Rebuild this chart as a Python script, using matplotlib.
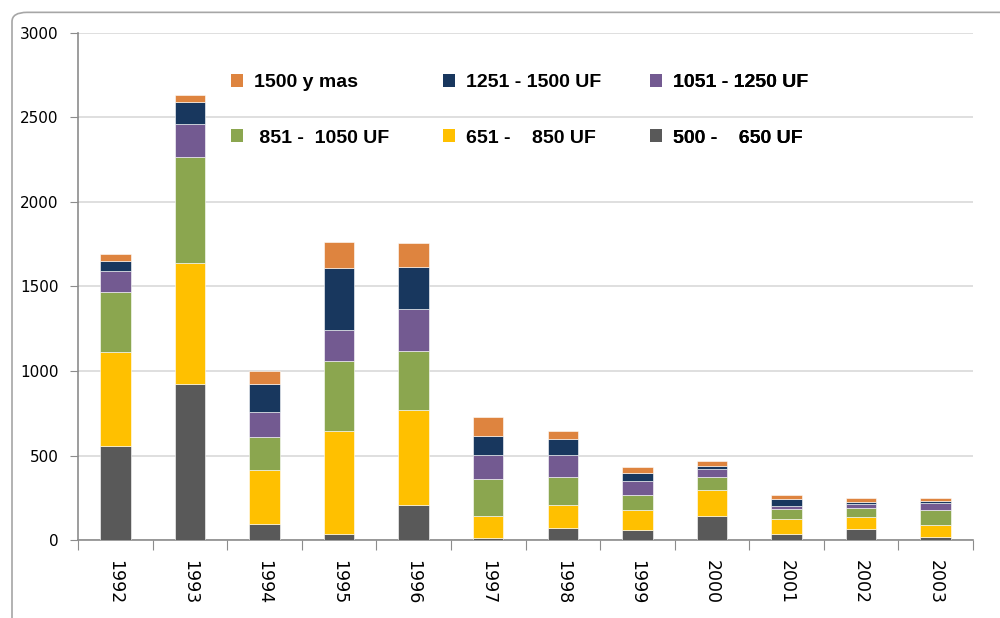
import numpy as np
import matplotlib.pyplot as plt
from matplotlib.patches import FancyBboxPatch, Patch

# ---------------------------------------------------------------------------
# Data
# ---------------------------------------------------------------------------
years = ['1992', '1993', '1994', '1995', '1996', '1997', '1998', '1999',
         '2000', '2001', '2002', '2003']

uf_500_650 = [559, 925, 96, 39, 210, 13, 74, 57, 143, 39, 63, 19]
uf_651_850 = [551, 711, 317, 609, 558, 130, 132, 121, 156, 83, 74, 73]
uf_851_1050 = [355, 631, 199, 411, 348, 217, 166, 91, 73, 61, 53, 85]
uf_1051_1250 = [126, 195, 144, 186, 249, 146, 134, 81, 47, 21, 22, 41]
uf_1251_1500 = [57, 128, 169, 364, 250, 110, 94, 44, 20, 39, 16, 16]
uf_1500_mas = [42, 44, 77, 156, 144, 112, 48, 37, 31, 22, 24, 18]

series = [
    ('500 -    650 UF', uf_500_650, '#595959'),
    ('651 -    850 UF', uf_651_850, '#FFC000'),
    (' 851 -  1050 UF', uf_851_1050, '#8BA64F'),
    ('1051 - 1250 UF', uf_1051_1250, '#735A91'),
    ('1251 - 1500 UF', uf_1251_1500, '#18375E'),
    ('1500 y mas', uf_1500_mas, '#DE843F'),
]

# ---------------------------------------------------------------------------
# Plot
# ---------------------------------------------------------------------------
fig = plt.figure(figsize=(10, 6.18), dpi=100)
ax = fig.add_axes([0.078, 0.126, 0.895, 0.821])

x = np.arange(len(years))
bottom = np.zeros(len(years))
handles = {}
for label, vals, color in series:
    ax.bar(x, vals, 0.41, bottom=bottom, color=color,
           edgecolor='#FFFFFF', linewidth=0.4, zorder=3)
    bottom += np.array(vals)
    handles[label] = Patch(facecolor=color, label=label)

ax.set_xlim(-0.5, len(years) - 0.5)
ax.set_ylim(0, 3000)
ax.set_yticks(np.arange(0, 3001, 500))
ax.yaxis.grid(True, color='#D9D9D9', linewidth=1.2, zorder=0)
ax.set_axisbelow(True)

for side in ['top', 'right']:
    ax.spines[side].set_visible(False)
for side in ['left', 'bottom']:
    ax.spines[side].set_color('#8C8C8C')
    ax.spines[side].set_linewidth(1.2)

ax.tick_params(axis='y', direction='out', length=6, color='#8C8C8C',
               labelsize=11, pad=8)

# category ticks sit between the bars
ax.set_xticks(np.arange(-0.5, len(years), 1.0))
ax.set_xticklabels([])
ax.tick_params(axis='x', direction='out', length=7, color='#8C8C8C')
ax.set_xticks(x, minor=True)
ax.set_xticklabels(years, minor=True, rotation=270, fontsize=12.5)
ax.tick_params(axis='x', which='minor', length=0, pad=14)

# legend: three columns placed by hand, two rows each
columns = [['1500 y mas', ' 851 -  1050 UF'],
           ['1251 - 1500 UF', '651 -    850 UF'],
           ['1051 - 1250 UF', '500 -    650 UF']]
col_x = [0.151, 0.388, 0.619]
for cx, labels in zip(col_x, columns):
    leg = ax.legend(handles=[handles[k] for k in labels], loc='upper left',
                    bbox_to_anchor=(cx, 0.953), frameon=False,
                    handlelength=0.65, handleheight=0.65, handletextpad=0.55,
                    labelspacing=1.95,
                    prop={'family': 'Liberation Sans', 'weight': 'bold',
                          'size': 14})
    ax.add_artist(leg)

# rounded outer frame of the chart area
frame = FancyBboxPatch((0.012, -0.05), 1.05, 1.03, transform=fig.transFigure,
                       boxstyle='round,pad=0,rounding_size=0.015',
                       facecolor='none', edgecolor='#A6A6A6', linewidth=1.2,
                       clip_on=False)
fig.patches.append(frame)

plt.savefig('out.png', dpi=100)
